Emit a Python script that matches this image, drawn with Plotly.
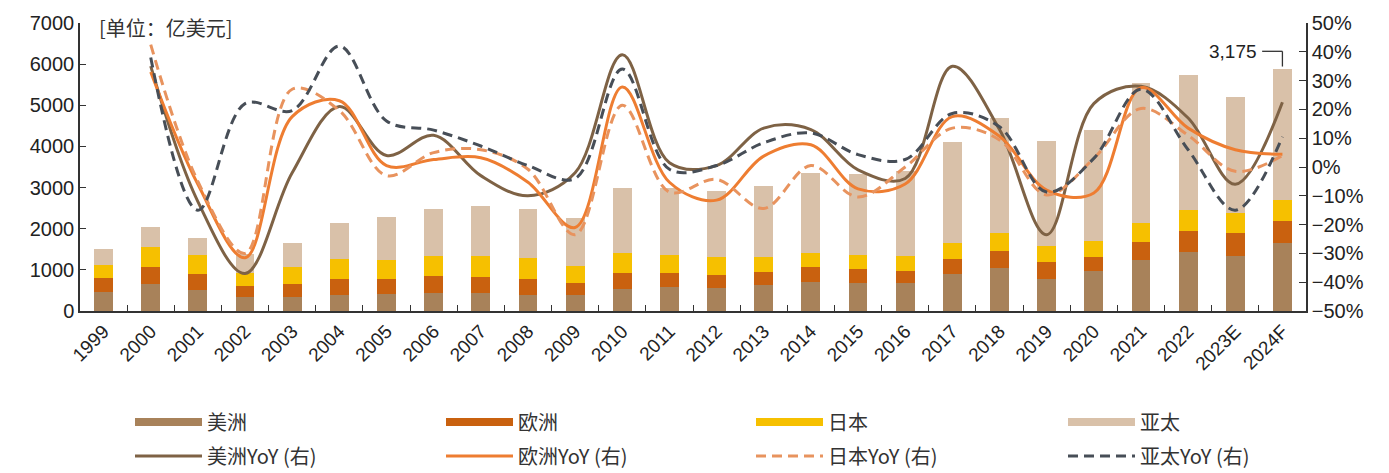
import plotly.graph_objects as go

# Shipments by region (亿美元), 1999 – 2024F
years = ["1999", "2000", "2001", "2002", "2003", "2004", "2005", "2006", "2007",
         "2008", "2009", "2010", "2011", "2012", "2013", "2014", "2015", "2016",
         "2017", "2018", "2019", "2020", "2021", "2022", "2023E", "2024F"]

americas = [470, 645, 518, 342, 342, 382, 422, 446, 438, 398, 398, 542, 581,
            557, 629, 693, 685, 669, 900, 1035, 781, 979, 1234, 1441, 1338, 1656]
europe = [325, 430, 374, 263, 303, 406, 366, 406, 398, 374, 271, 374, 335,
          327, 326, 366, 342, 302, 358, 422, 413, 343, 455, 511, 557, 542]
japan = [330, 480, 462, 310, 414, 486, 462, 486, 502, 510, 422, 494, 446,
         430, 367, 359, 327, 359, 383, 438, 383, 374, 445, 501, 478, 509]
asia = [380, 495, 421, 460, 597, 860, 1027, 1139, 1226, 1195, 1163, 1576, 1624,
        1601, 1728, 1934, 1974, 2062, 2468, 2787, 2548, 2692, 3401, 3280, 2827, 3175]

# Year-over-year growth (%), 2000 – 2024F
yoy_years = years[1:]
americas_yoy = [35, -12, -37, -2, 21, 4, 11, -3, -10, -2, 39, 1.5, 0.5, 13.5,
                13, -1, -4, 35, 13, -23.5, 22, 28, 17, -6, 22.5]
europe_yoy = [33, -6, -31.5, 17.5, 23, 0.5, 2.6, 3.2, -5.3, -21, 27.8, -5.3,
              -11.5, 3.8, 7.7, -7.6, -5.9, 17.5, 10.7, -8, -9, 27.5, 13.5, 6, 4.4]
japan_yoy = [42.5, -5, -30, 27, 19.6, -3, 5, 6, -0.8, -23.5, 21.4, -8.7, -4.3,
             -14.4, 0.5, -10.4, 0, 13.5, 9.4, -9.7, 3, 20.3, 11, -1.5, 4]
asia_yoy = [38, -15, 22, 19.6, 42, 16, 12.8, 7.3, 0.5, -4, 34, -0.8, 0.5, 8.4,
            11.8, 4.3, 2.6, 18.6, 14, -8.7, 3, 27, 6, -15, 10.5]

bar_series = [
    ("美洲", americas, "#A8825A"),
    ("欧洲", europe, "#C9610F"),
    ("日本", japan, "#F6C000"),
    ("亚太", asia, "#D9C1A9"),
]
line_series = [
    ("美洲YoY (右)", americas_yoy, "#7E6245", "solid"),
    ("欧洲YoY (右)", europe_yoy, "#EE7D31", "solid"),
    ("日本YoY (右)", japan_yoy, "#E8935E", "10px,6px"),
    ("亚太YoY (右)", asia_yoy, "#474E57", "10px,6px"),
]

TXT = "Liberation Sans, Arial, sans-serif"
CJK = "Noto Sans CJK SC, sans-serif"

# legend grid: one single-entry legend per cell (4 columns x 2 rows)
col_px = [130, 441, 751, 1063]
row_px = [422, 456]
legend_ids = [["legend", "legend2", "legend3", "legend4"],
              ["legend5", "legend6", "legend7", "legend8"]]

fig = go.Figure()

for name, vals, color in bar_series:
    fig.add_trace(go.Bar(
        x=years, y=vals, name=name, legendgroup=name, showlegend=False,
        marker=dict(color=color, line=dict(width=0)),
    ))

# wide flat swatches for the stacked bars in the first legend row
for i, (name, vals, color) in enumerate(bar_series):
    fig.add_trace(go.Scatter(
        x=[None], y=[None], mode="lines", name=name, legendgroup=name,
        line=dict(color=color, width=8), legend=legend_ids[0][i],
    ))

for i, (name, vals, color, dash) in enumerate(line_series):
    fig.add_trace(go.Scatter(
        x=yoy_years, y=[v / 100 for v in vals], name=name, yaxis="y2",
        mode="lines", legend=legend_ids[1][i],
        line=dict(color=color, width=3, shape="spline", smoothing=1, dash=dash),
    ))

# callout for the last Asia-Pacific bar
last = len(years) - 1
top = americas[last] + europe[last] + japan[last] + asia[last]
level = top + 430
fig.add_shape(type="line", xref="x", yref="y", x0=last, x1=last,
              y0=top + 60, y1=level, line=dict(color="#333333", width=1.3))
fig.add_shape(type="line", xref="x", yref="y", x0=last - 0.43, x1=last,
              y0=level, y1=level, line=dict(color="#333333", width=1.3))
fig.add_annotation(x=last - 0.5, y=level, xref="x", yref="y", text=f"{asia[last]:,}",
                   showarrow=False, xanchor="right", yanchor="middle",
                   font=dict(family=TXT, size=19, color="#222222"))

fig.add_annotation(x=0.014, y=0.983, xref="paper", yref="paper", text="[单位：亿美元]",
                   showarrow=False, xanchor="left", yanchor="middle",
                   font=dict(family=CJK, size=20, color="#333333"))

axis_line = dict(showline=True, linecolor="#333333", linewidth=1.5,
                 ticks="inside", tickcolor="#333333", showgrid=False, zeroline=False)

W, H = 1389, 473
legends = {}
for r, row in enumerate(legend_ids):
    for c, lid in enumerate(row):
        legends[lid] = dict(
            orientation="h", xref="container", yref="container",
            x=col_px[c] / W, y=(H - row_px[r]) / H,
            xanchor="left", yanchor="middle", itemwidth=67,
            font=dict(family=CJK, size=20, color="#333333"),
            bgcolor="rgba(0,0,0,0)",
        )

fig.update_layout(
    width=W, height=H, autosize=False,
    margin=dict(l=80, r=83, t=18, b=162),
    paper_bgcolor="white", plot_bgcolor="white",
    barmode="stack", bargap=0.6,
    xaxis=dict(type="category", tickangle=-45, tickson="boundaries", ticklen=6,
               tickfont=dict(family=TXT, size=19, color="#222222"), **axis_line),
    yaxis=dict(range=[0, 7000], dtick=1000, ticklen=6,
               tickfont=dict(family=TXT, size=20, color="#222222"), **axis_line),
    yaxis2=dict(overlaying="y", side="right", range=[-0.5, 0.5], dtick=0.1,
                tickformat=".0%", ticklen=7,
                tickfont=dict(family=TXT, size=20, color="#222222"), **axis_line),
    **legends,
)

fig.write_html("out.html")
